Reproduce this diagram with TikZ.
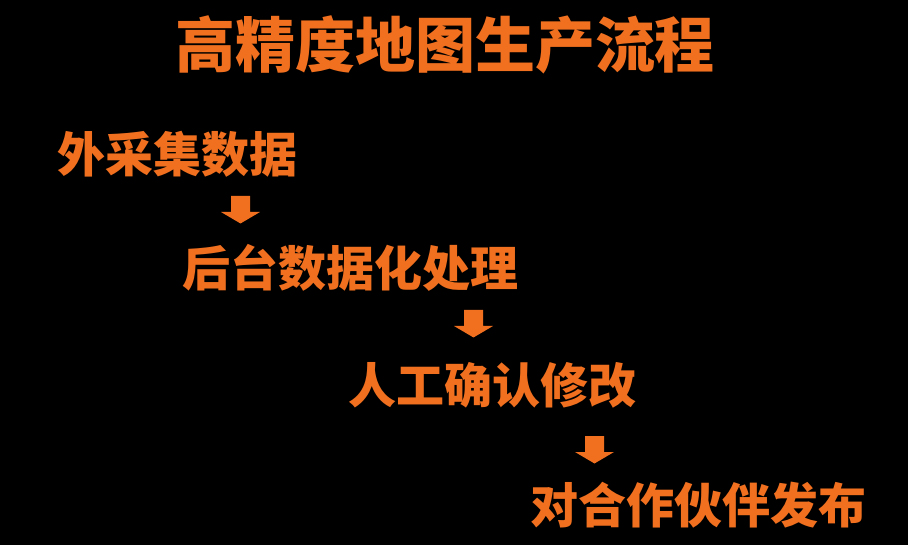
\documentclass[tikz,border=0pt]{standalone}
\usepackage{fontspec}
\newfontfamily\cjk{Noto Sans CJK SC}[BoldFont={Noto Sans CJK SC Black}]
\definecolor{hdorange}{RGB}{240,112,32}
\tikzset{
  title/.style={text=hdorange, inner sep=0pt, font=\cjk\bfseries\fontsize{60}{60}\selectfont},
  stepbox/.style={text=hdorange, inner sep=0pt, font=\cjk\bfseries\fontsize{48}{48}\selectfont},
  downarrow/.pic={\fill[hdorange] (-9.5,0) -- (9.5,0) -- (9.5,16) -- (19.5,16) -- (0,27.5) -- (-19.5,16) -- (-9.5,16) -- cycle;}
}
\begin{document}
\begin{tikzpicture}[x=1pt,y=-1pt]
\fill[black] (0,0) rectangle (908,545);
\useasboundingbox (0,0) rectangle (908,545);
\node[title] (t) at (445,45) {高精度地图生产流程};
\node[stepbox] (s1) at (177,154) {外采集数据};
\node[stepbox] (s2) at (350.5,268) {后台数据化处理};
\node[stepbox] (s3) at (492.5,385) {人工确认修改};
\node[stepbox] (s4) at (698.5,505) {对合作伙伴发布};
\pic (a1) at (240.5,196) {downarrow};
\pic (a2) at (473.5,310) {downarrow};
\pic (a3) at (594.5,436) {downarrow};
\end{tikzpicture}
\end{document}
